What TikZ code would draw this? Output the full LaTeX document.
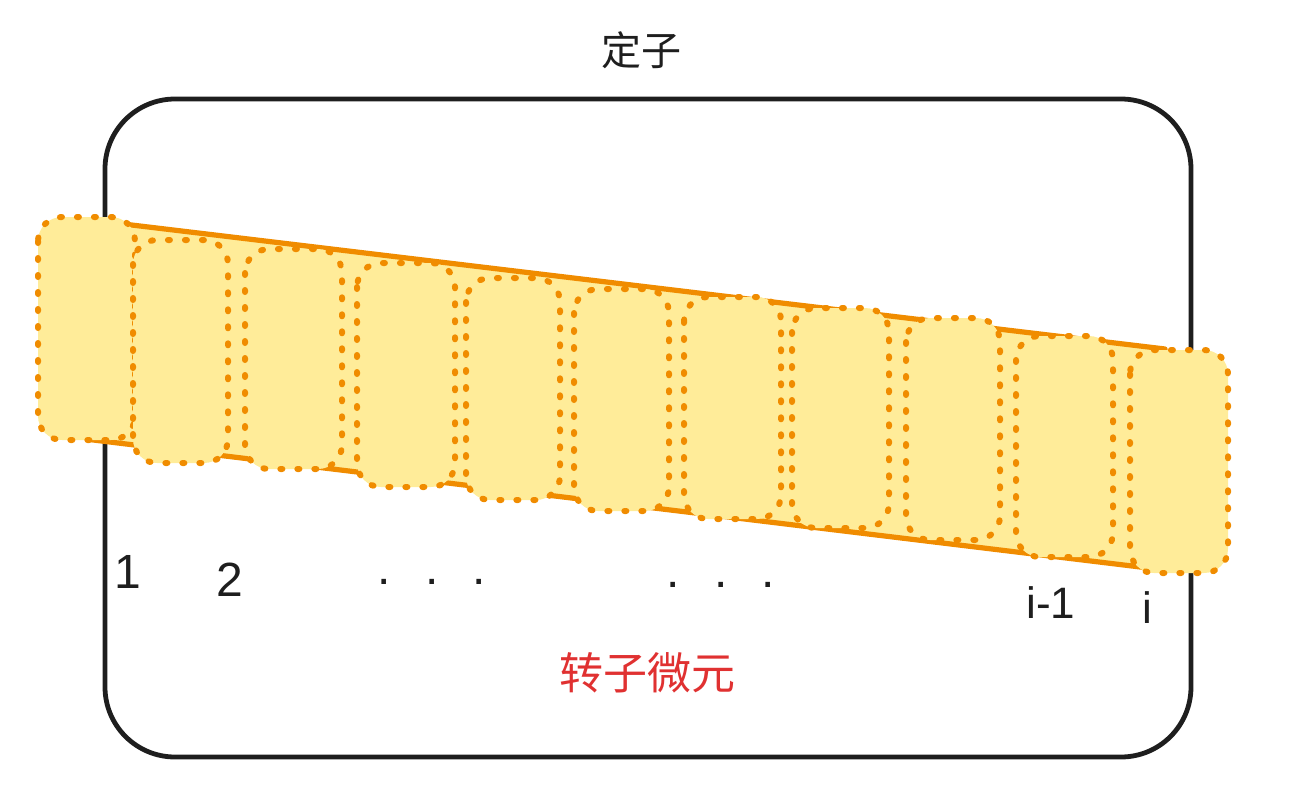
\documentclass[tikz,border=0pt]{standalone}
\usepackage{fontspec}
\setmainfont{Liberation Sans}
\newfontfamily\cjk{Noto Sans CJK SC}

\begin{document}
\begin{tikzpicture}[x=0.5pt, y=-0.5pt,
    piece/.style={fill=fillColour, draw=bandColour, line width=3pt, line cap=round,
        dash pattern=on 1pt off 7.5pt, rounded corners=12pt},
    indexLabel/.style={text=strokeColour, font=\fontsize{24pt}{28pt}\selectfont}]
    % Define colours
    \definecolor{strokeColour}{HTML}{1E1E1E}
    \definecolor{bandColour}{HTML}{F08C00}
    \definecolor{fillColour}{HTML}{FFEC99}
    \definecolor{labelColour}{HTML}{E03131}

    \useasboundingbox (0,0) rectangle (1298,804);

    % Draw the stator
    \draw[strokeColour, line width=2.4pt, rounded corners=35pt] (105,99) rectangle (1191,757);
    \node[text=strokeColour, font=\cjk\fontsize{20pt}{24pt}\selectfont] (stator) at (641,50) {定子};

    % Draw the rotor band
    \filldraw[fill=fillColour, draw=bandColour, line width=2.6pt, line join=round]
        (90,220) -- (1165,349) -- (1165,570) -- (90,439.6) -- cycle;

    % Draw the rotor elements
    \foreach \l/\t/\r/\b in {38/217/135/440, 133/240/228/463, 245/249/342/469,
        357/263/455/487, 466/278/560/500, 574/289/669/511, 684/297/781/519,
        792/308/889/528, 906/318/1000/540, 1016/336/1113/557, 1130/350/1228/573}
        \filldraw[piece] (\l,\t) rectangle (\r,\b);

    % Label the elements
    \node[indexLabel] (first) at (128,572) {1};
    \node[indexLabel] (second) at (230,580) {2};
    \node[indexLabel] (dotsLeft) at (432,582) {.\hspace{17pt}.\hspace{17pt}.};
    \node[indexLabel] (dotsRight) at (721,585) {.\hspace{17pt}.\hspace{17pt}.};
    \node[indexLabel, font=\fontsize{22pt}{26pt}\selectfont] (beforeLast) at (1051,603) {i-1};
    \node[indexLabel, font=\fontsize{22pt}{26pt}\selectfont] (last) at (1147,608) {i};

    \node[text=labelColour, font=\cjk\fontsize{22pt}{26pt}\selectfont] (rotor) at (647,673) {转子微元};
\end{tikzpicture}
\end{document}
